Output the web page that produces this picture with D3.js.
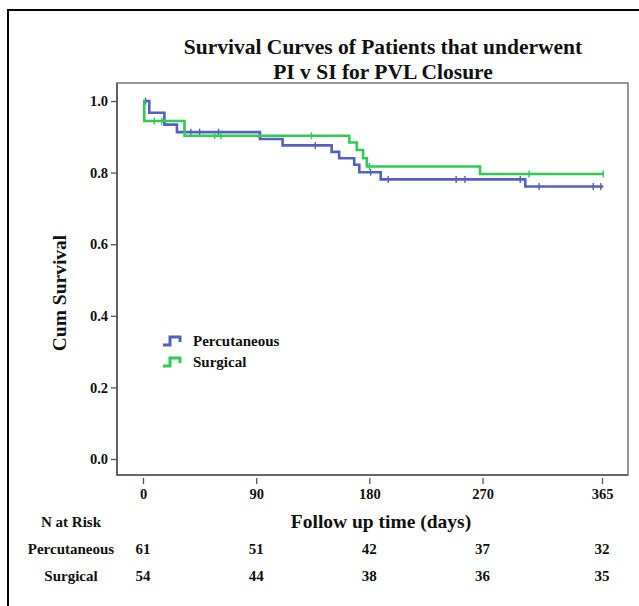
<!DOCTYPE html>
<html><head><meta charset="utf-8">
<script src="https://cdn.jsdelivr.net/npm/d3@7/dist/d3.min.js"></script>
<style>body{margin:0;background:#fff}svg{display:block}text{font-family:"Liberation Serif","Times New Roman",serif;font-weight:bold;fill:#111}</style>
</head><body>
<script>
const titleLines = ["Survival Curves of Patients that underwent", "PI v SI for PVL Closure"];
const xTicks = [0, 90, 180, 270, 365];
const yTicks = [0, 0.2, 0.4, 0.6, 0.8, 1.0];
const groups = ["Percutaneous", "Surgical"];
const colors = ["#5362be", "#2fcb52"];
// step function data (time in days, cumulative survival)
const percTimes = [0, 5, 17, 27, 93, 111, 150, 156, 168, 172, 189, 304, 366];
const percSurv  = [1.0, 0.967, 0.934, 0.913, 0.894, 0.876, 0.858, 0.840, 0.822, 0.801, 0.781, 0.761, 0.761];
const percCensor = [2, 38, 45, 60, 137, 181, 195, 249, 256, 300, 315, 358, 364];
const surgTimes = [0, 1, 33, 164, 170, 175, 178, 268, 366];
const surgSurv  = [1.0, 0.944, 0.903, 0.884, 0.863, 0.840, 0.817, 0.796, 0.796];
const surgCensor = [9, 15, 57, 62, 134, 180, 307, 366];
const atRiskPerc = [61, 51, 42, 37, 32];
const atRiskSurg = [54, 44, 38, 36, 35];

const W = 639, H = 606;
const svg = d3.select("body").append("svg").attr("width", W).attr("height", H);

// outer border
svg.append("path").attr("d", "M8,606 L8,10 L639,10").attr("fill", "none").attr("stroke", "#000").attr("stroke-width", 2);

const frame = {l: 117, t: 83, r: 628, b: 475};
const x = d3.scaleLinear().domain([0, 365]).range([143, 602]);
const y = d3.scaleLinear().domain([0, 1]).range([459, 101]);

// title
titleLines.forEach((t, i) => {
  svg.append("text").attr("x", 383).attr("y", 54 + i * 25).attr("text-anchor", "middle")
    .style("font-size", "21.5px").text(t);
});

// frame
svg.append("rect").attr("x", frame.l).attr("y", frame.t).attr("width", frame.r - frame.l).attr("height", frame.b - frame.t)
  .attr("fill", "none").attr("stroke", "#777").attr("stroke-width", 1.5);
svg.append("path").attr("d", `M${frame.l},${frame.t} L${frame.l},${frame.b} L${frame.r},${frame.b}`)
  .attr("fill", "none").attr("stroke", "#555").attr("stroke-width", 1.6);

// y axis
const yAxis = d3.axisLeft(y).tickValues(yTicks).tickFormat(d3.format(".1f")).tickSize(6).tickPadding(3);
const gy = svg.append("g").attr("transform", `translate(${frame.l},0)`).call(yAxis);
gy.select(".domain").remove();
gy.selectAll("line").attr("stroke", "#555").attr("stroke-width", 1.3);
gy.selectAll("text").style("font-size", "14.5px").style("font-family", '"Liberation Serif",serif').style("font-weight", "bold").attr("fill", "#111");

// x axis
const xAxis = d3.axisBottom(x).tickValues(xTicks).tickFormat(d3.format("d")).tickSize(6).tickPadding(5);
const gx = svg.append("g").attr("transform", `translate(0,${frame.b + 3})`).call(xAxis);
gx.select(".domain").remove();
gx.selectAll("line").attr("stroke", "#555").attr("stroke-width", 1.3);
gx.selectAll("text").style("font-size", "14.5px").style("font-family", '"Liberation Serif",serif').style("font-weight", "bold").attr("fill", "#111");

// axis titles
svg.append("text").attr("transform", "translate(66,293) rotate(-90)").attr("text-anchor", "middle")
  .style("font-size", "19.5px").text("Cum Survival");
svg.append("text").attr("x", 381).attr("y", 528).attr("text-anchor", "middle")
  .style("font-size", "19.5px").text("Follow up time (days)");

// curves
const line = d3.line().x(d => x(d[0])).y(d => y(d[1])).curve(d3.curveStepAfter);
const series = [
  {times: percTimes, surv: percSurv, censor: percCensor, color: colors[0]},
  {times: surgTimes, surv: surgSurv, censor: surgCensor, color: colors[1]}
];
function survAt(s, t) {
  let v = s.surv[0];
  for (let i = 0; i < s.times.length; i++) if (s.times[i] <= t) v = s.surv[i];
  return v;
}
series.forEach(s => {
  const pts = s.times.map((t, i) => [t, s.surv[i]]);
  svg.append("path").datum(pts).attr("d", line).attr("fill", "none")
    .attr("stroke", s.color).attr("stroke-width", 2.6).attr("stroke-linejoin", "miter");
  svg.append("g").selectAll("line").data(s.censor).join("line")
    .attr("x1", d => x(d)).attr("x2", d => x(d))
    .attr("y1", d => y(survAt(s, d)) - 3.5).attr("y2", d => y(survAt(s, d)) + 3.5)
    .attr("stroke", s.color).attr("stroke-width", 1.4);
});

// legend
groups.forEach((g, i) => {
  const ly = 341 + i * 21;
  svg.append("path").attr("d", `M163,${ly + 4} L170,${ly + 4} L170,${ly - 4} L180,${ly - 4} L180,${ly + 1}`)
    .attr("fill", "none").attr("stroke", colors[i]).attr("stroke-width", 3);
  svg.append("text").attr("x", 193).attr("y", ly + 5).style("font-size", "15px").text(g);
});

// N at risk table
svg.append("text").attr("x", 71).attr("y", 527).attr("text-anchor", "middle").style("font-size", "15px").text("N at Risk");
[[groups[0], atRiskPerc, 554], [groups[1], atRiskSurg, 581]].forEach(([name, vals, yy]) => {
  svg.append("text").attr("x", 71).attr("y", yy).attr("text-anchor", "middle").style("font-size", "15px").text(name);
  svg.append("g").selectAll("text").data(vals).join("text")
    .attr("x", (d, i) => x(xTicks[i])).attr("y", yy).attr("text-anchor", "middle")
    .style("font-size", "15px").text(d => d);
});
</script>
</body></html>
